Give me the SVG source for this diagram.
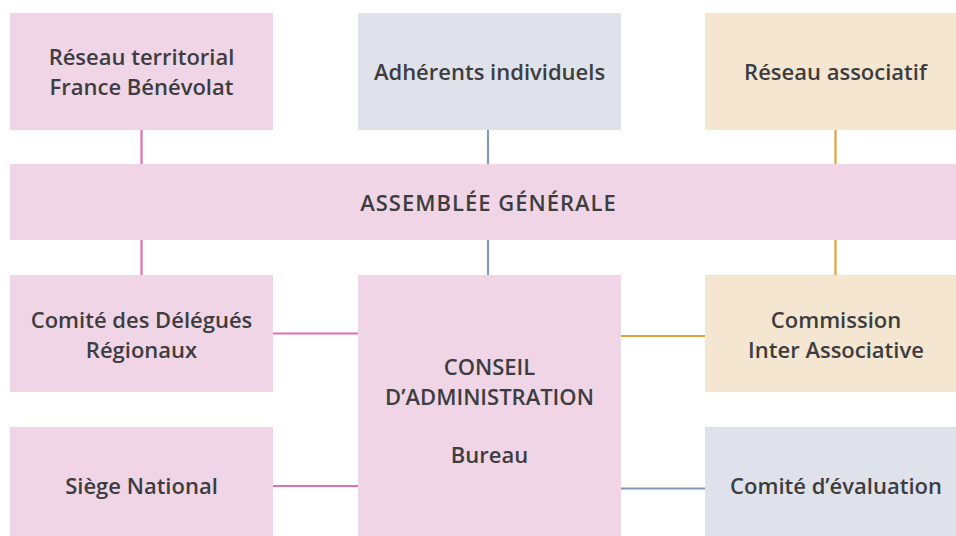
<svg xmlns="http://www.w3.org/2000/svg" width="956" height="536" viewBox="0 0 956 536">
<style>
.pink{fill:#f0d5e7}.gray{fill:#dfe2ea}.beige{fill:#f4e6d1}
text{font-family:"Open Sans","Liberation Sans",sans-serif;font-weight:600;font-size:22px;fill:#3d3d3f;text-anchor:middle}
.lp{stroke:#e070ab;stroke-width:2.2}.lb{stroke:#8499b4;stroke-width:2.2}.lo{stroke:#e0a23e;stroke-width:2.2}
</style>
<rect width="956" height="536" fill="#fff"/>
<g id="connectors">
<line class="lp" x1="141.5" y1="130" x2="141.5" y2="164"/>
<line class="lp" x1="141.5" y1="240" x2="141.5" y2="275"/>
<line class="lb" x1="488" y1="130" x2="488" y2="164"/>
<line class="lb" x1="488" y1="240" x2="488" y2="275"/>
<line class="lo" x1="835.5" y1="130" x2="835.5" y2="164"/>
<line class="lo" x1="835.5" y1="240" x2="835.5" y2="275"/>
<line class="lp" x1="273" y1="333.5" x2="358" y2="333.5"/>
<line class="lp" x1="273" y1="486" x2="358" y2="486"/>
<line class="lo" x1="621" y1="336" x2="705" y2="336"/>
<line class="lb" x1="621" y1="488.5" x2="705" y2="488.5"/>
</g>
<g id="reseau-territorial"><rect class="pink" x="10" y="13" width="263" height="117"/><text x="141.5" y="65">Réseau territorial</text><text x="141.5" y="95">France Bénévolat</text></g>
<g id="adherents"><rect class="gray" x="358" y="13" width="263" height="117"/><text x="489.5" y="80">Adhérents individuels</text></g>
<g id="reseau-associatif"><rect class="beige" x="705" y="13" width="251" height="117"/><text x="835.5" y="80">Réseau associatif</text></g>
<g id="assemblee"><rect class="pink" x="10" y="164" width="946" height="76"/><text x="488.5" y="211" letter-spacing="1">ASSEMBLÉE GÉNÉRALE</text></g>
<g id="comite-delegues"><rect class="pink" x="10" y="275" width="263" height="117"/><text x="141.5" y="328">Comité des Délégués</text><text x="141.5" y="358">Régionaux</text></g>
<g id="conseil"><rect class="pink" x="358" y="275" width="263" height="261"/><text x="489.5" y="375">CONSEIL</text><text x="489.5" y="405">D’ADMINISTRATION</text><text x="489.5" y="463">Bureau</text></g>
<g id="commission"><rect class="beige" x="705" y="275" width="251" height="117"/><text x="836" y="328">Commission</text><text x="836" y="358">Inter Associative</text></g>
<g id="siege"><rect class="pink" x="10" y="427" width="263" height="109"/><text x="141.5" y="494">Siège National</text></g>
<g id="comite-evaluation"><rect class="gray" x="705" y="427" width="251" height="109"/><text x="836" y="494">Comité d’évaluation</text></g>
</svg>
